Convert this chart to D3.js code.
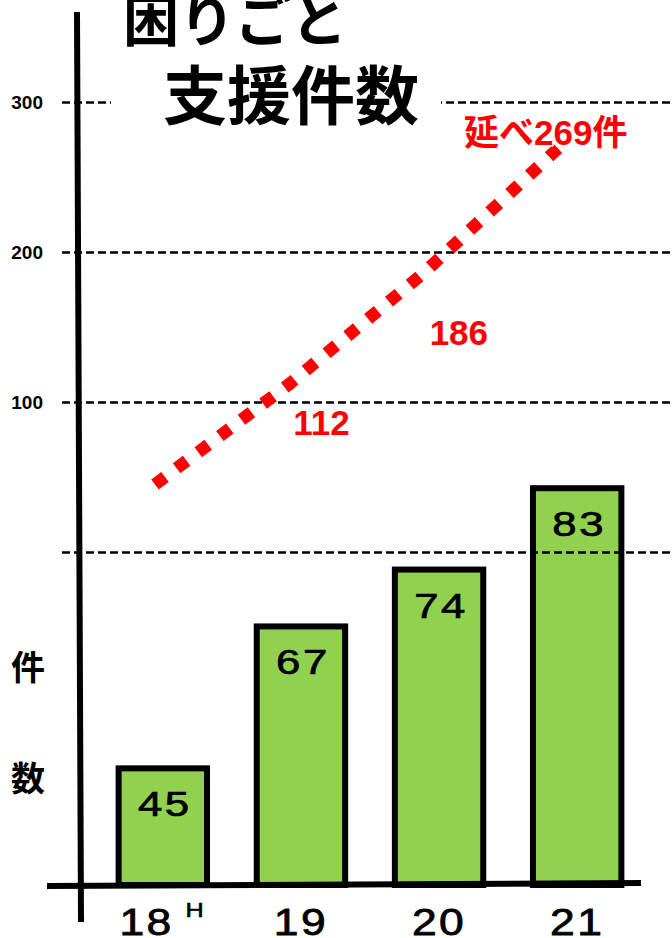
<!DOCTYPE html>
<html><head><meta charset="utf-8">
<script src="https://cdn.jsdelivr.net/npm/d3@7"></script>
<style>body{margin:0;background:#fff} svg{display:block}</style>
</head><body>
<svg id="c" width="672" height="938"></svg>
<script>
const categories = ["18","19","20","21"];
const eraSuffix = "H";
const barValues = [45,67,74,83];
const cumulativeValues = [45,112,186,269];
const gridTicks = [0,100,200,300];
const gridTickLabels = ["","100","200","300"];
const titleLines = ["困りごと","支援件数"];
const yAxisTitle = ["件","数"];
const totalPrefix = "延べ", totalSuffix = "件";

const svg = d3.select("#c");
const baseY = 885;
const latin = "'Liberation Sans', Arial, sans-serif";
const cjk = "'Liberation Sans', 'Noto Sans CJK JP', sans-serif";

const x = d3.scaleBand().domain(categories).range([91,649]).paddingInner(0.36).paddingOuter(0.2);
const yBar = d3.scalePow().exponent(2).domain([0,100]).range([baseY, baseY-576]);
const yLine = d3.scaleLinear().domain([0,300]).range([552,102]);
const xLine = d3.scalePoint().domain(categories).range([155,558]);

// bars
svg.append("g").selectAll("rect").data(barValues).join("rect")
  .attr("x",(d,i)=>x(categories[i])).attr("y",d=>yBar(d))
  .attr("width",x.bandwidth()).attr("height",d=>baseY-yBar(d))
  .attr("fill","#92d050").attr("stroke","#000").attr("stroke-width",6);

svg.append("g").selectAll("text").data(barValues).join("text")
  .attr("transform",(d,i)=>`translate(${x(categories[i])+x.bandwidth()/2+2},${yBar(d)+48}) scale(1.25,1)`)
  .attr("text-anchor","middle").attr("font-family",latin).attr("font-weight","normal")
  .attr("stroke","#000").attr("stroke-width",0.7)
  .attr("font-size",35).attr("letter-spacing",2).attr("fill","#000").text(d=>d);

// grid
const ga = svg.append("g").attr("transform","translate(62,0)")
  .call(d3.axisLeft(yLine).tickValues(gridTicks).tickSize(-610).tickPadding(19).tickFormat((d,i)=>gridTickLabels[i]));
ga.select(".domain").remove();
ga.selectAll("line").attr("stroke","#000").attr("stroke-width",2.5).attr("stroke-dasharray","8,4");
ga.selectAll("text").attr("font-family",latin).attr("font-weight","bold").attr("font-size",19).attr("fill","#000");

// title
svg.append("rect").attr("x",111).attr("y",60).attr("width",330).attr("height",70).attr("fill","#fff");
svg.append("text").attr("x",123).attr("y",41).attr("font-family","'Noto Sans CJK JP', sans-serif")
  .attr("font-weight",700).attr("font-size",56).attr("fill","#000").text(titleLines[0]);
svg.append("text").attr("x",163).attr("y",119).attr("font-family","'Noto Sans CJK JP', sans-serif")
  .attr("font-weight",700).attr("font-size",64).attr("fill","#000").text(titleLines[1]);

// cumulative line
const line = d3.line().x((d,i)=>xLine(categories[i])).y(d=>yLine(d));
svg.append("path").datum(cumulativeValues).attr("d",line).attr("fill","none")
  .attr("stroke","#ff0000").attr("stroke-width",12.5).attr("stroke-dasharray","12.5,14.5");

const offs = [null,[4,51],[6,72],[-94,-4]];
cumulativeValues.forEach((v,i)=>{
  if(!offs[i]) return;
  const last = i===cumulativeValues.length-1;
  svg.append("text").attr("x",xLine(categories[i])+offs[i][0]).attr("y",yLine(v)+offs[i][1])
    .attr("font-family",cjk).attr("font-weight","bold").attr("font-size",35).attr("fill","#ff0000")
    .attr("stroke",last?"#fff":"none").attr("stroke-width",3).attr("paint-order","stroke")
    .text(last ? totalPrefix+v+totalSuffix : v);
});

// x labels
svg.append("g").selectAll("text").data(categories).join("text")
  .attr("transform",d=>`translate(${x(d)+x.bandwidth()/2},935) scale(1.2,1)`)
  .attr("text-anchor","middle").attr("font-family",latin).attr("font-weight","normal")
  .attr("stroke","#000").attr("stroke-width",0.8)
  .attr("font-size",37).attr("letter-spacing",2).attr("fill","#000")
  .each(function(d,i){
    const t=d3.select(this);
    t.append("tspan").text(d);
    if(i===0) t.append("tspan").attr("dx",10).attr("dy",-18).attr("font-size",21).attr("stroke-width",0.6).text(eraSuffix);
  });

// y title
yAxisTitle.forEach((s,i)=>{
  svg.append("text").attr("x",28).attr("y",[680,791][i]).attr("text-anchor","middle")
    .attr("font-family","'Noto Sans CJK JP', sans-serif").attr("font-weight",700)
    .attr("font-size",34).attr("fill","#000").text(s);
});

// axis lines
svg.append("line").attr("x1",77).attr("y1",12).attr("x2",81).attr("y2",922).attr("stroke","#000").attr("stroke-width",6);
svg.append("line").attr("x1",47).attr("y1",886).attr("x2",641).attr("y2",883).attr("stroke","#000").attr("stroke-width",6);
</script>
</body></html>
